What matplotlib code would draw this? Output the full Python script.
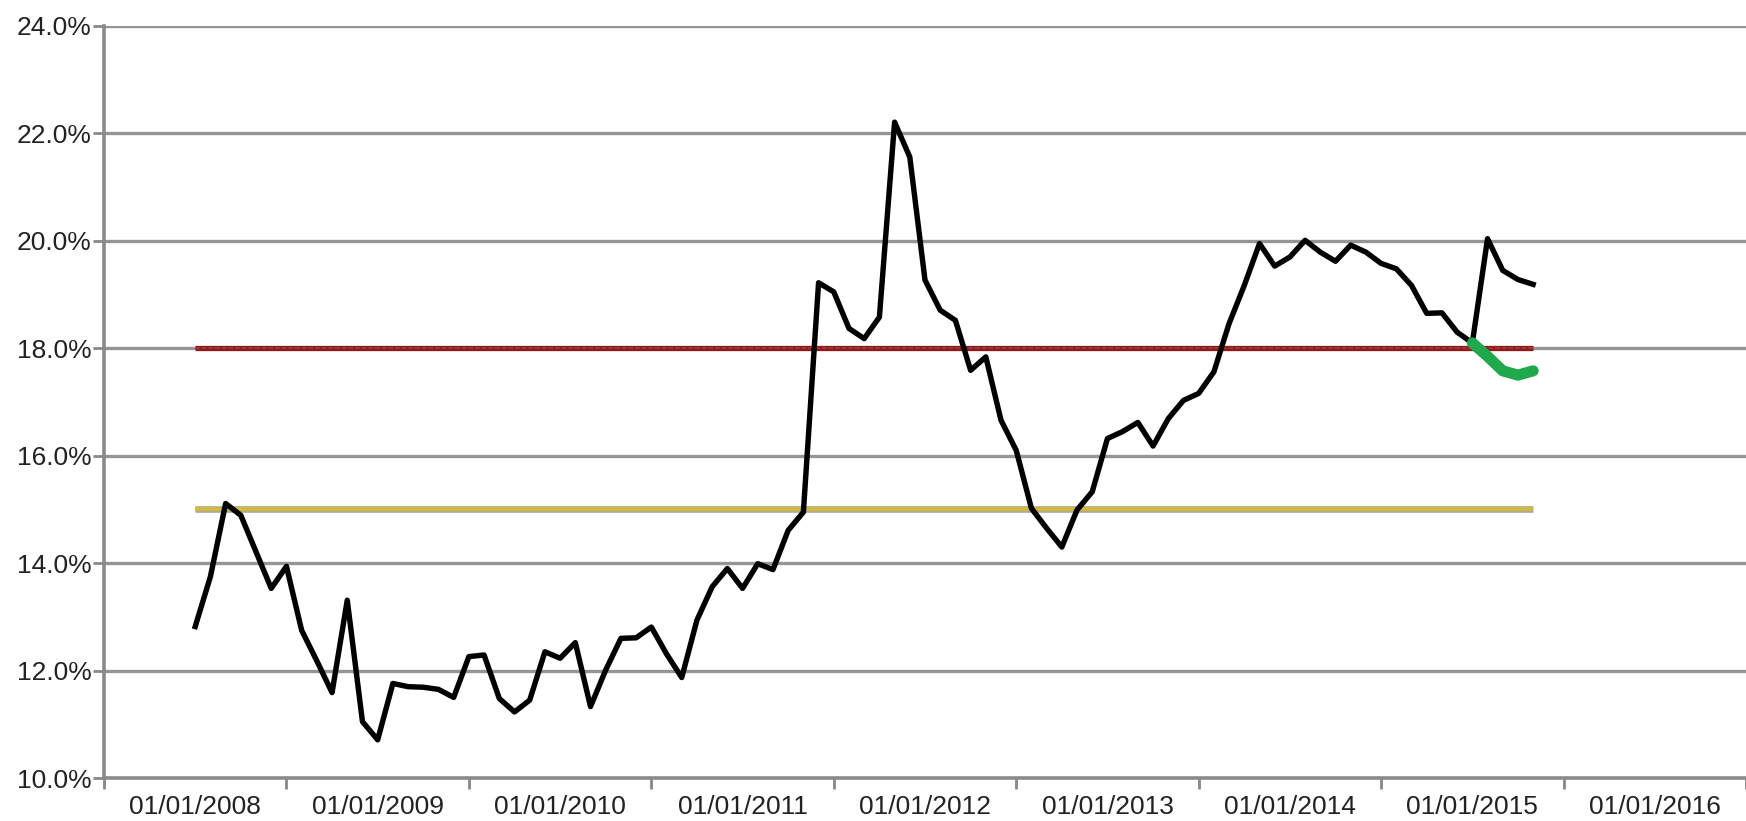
import matplotlib
matplotlib.use("Agg")
import matplotlib.pyplot as plt
import numpy as np

# Monthly values starting 01/01/2008 (month index 0)
values = [12.82, 13.75, 15.11, 14.89, 14.21, 13.53, 13.94, 12.75, 12.18, 11.59,
          13.31, 11.05, 10.71, 11.76, 11.70, 11.69, 11.65, 11.50, 12.26, 12.29,
          11.48, 11.23, 11.45, 12.35, 12.23, 12.52, 11.33, 12.01, 12.60, 12.61,
          12.81, 12.31, 11.87, 12.94, 13.56, 13.90, 13.53, 13.99, 13.88, 14.61,
          14.95, 19.22, 19.05, 18.37, 18.18, 18.58, 22.21, 21.56, 19.27, 18.71,
          18.52, 17.59, 17.84, 16.66, 16.10, 15.02, 14.65, 14.30, 14.99, 15.33,
          16.32, 16.45, 16.62, 16.18, 16.69, 17.03, 17.16, 17.56, 18.46, 19.17,
          19.95, 19.53, 19.70, 20.01, 19.79, 19.62, 19.92, 19.79, 19.58, 19.48,
          19.17, 18.65, 18.66, 18.30, 18.10, 20.04, 19.45, 19.28, 19.19]
green_start = 84
green_values = [18.10, 17.85, 17.58, 17.50, 17.58]
upper_level = 18.0
lower_level = 15.0
year_labels = ["01/01/2008", "01/01/2009", "01/01/2010", "01/01/2011", "01/01/2012",
               "01/01/2013", "01/01/2014", "01/01/2015", "01/01/2016"]
y_ticks = [10, 12, 14, 16, 18, 20, 22, 24]

months = np.arange(len(values))
green_months = np.arange(green_start, green_start + len(green_values))

plt.rcParams['font.family'] = ['Liberation Sans', 'DejaVu Sans']

fig = plt.figure(figsize=(17.46, 8.21), dpi=100)
ax = fig.add_axes([104/1746, 1 - 778/821, 1 - 104/1746, (778 - 26)/821])

ax.set_xlim(-6, 102)
ax.set_ylim(10, 24)

# grid lines
for yv in y_ticks[1:]:
    ax.axhline(yv, color='#959595', lw=2.4, zorder=1)

# reference levels
x_ref = [months[0], months[-1]]
ax.plot(x_ref, [lower_level]*2, color='#a8a8a8', lw=4.8, zorder=2, solid_capstyle='butt')
ax.plot(x_ref, [lower_level]*2, color='#d8bc2e', lw=2.6, zorder=2.1, solid_capstyle='butt')
ax.plot(x_ref, [upper_level]*2, color='#8c1c1c', lw=3.8, zorder=2, solid_capstyle='butt')
ax.plot(x_ref, [upper_level]*2, color='#a53a3a', lw=1.2, zorder=2.1, ls=(0, (3, 1)), solid_capstyle='butt')

ax.plot(months, values, color='black', lw=3.9, zorder=3, solid_joinstyle='round')
ax.plot(green_months, green_values, color='#1fa94c', lw=8, zorder=4,
        solid_capstyle='round', solid_joinstyle='round')

ax.set_yticks(y_ticks)
ax.set_yticklabels([f"{v:.1f}%" for v in y_ticks])
ax.set_xticks(np.arange(0, 97, 12))
ax.set_xticklabels(year_labels)
ax.set_xticks(np.arange(-6, 103, 12), minor=True)

ax.tick_params(axis='y', length=8, width=2, color='#888888', pad=1,
               labelsize=19, labelcolor='#222222')
ax.tick_params(axis='x', which='major', length=0, pad=12,
               labelsize=19, labelcolor='#222222')
ax.tick_params(axis='x', which='minor', length=8, width=2, color='#888888')

for s in ['top', 'right']:
    ax.spines[s].set_visible(False)
for s in ['left', 'bottom']:
    ax.spines[s].set_color('#8a8a8a')
    ax.spines[s].set_linewidth(2.6)
    ax.spines[s].set_zorder(5)

ax.set_facecolor('white')
fig.patch.set_facecolor('white')
fig.savefig("out.png", dpi=100)
